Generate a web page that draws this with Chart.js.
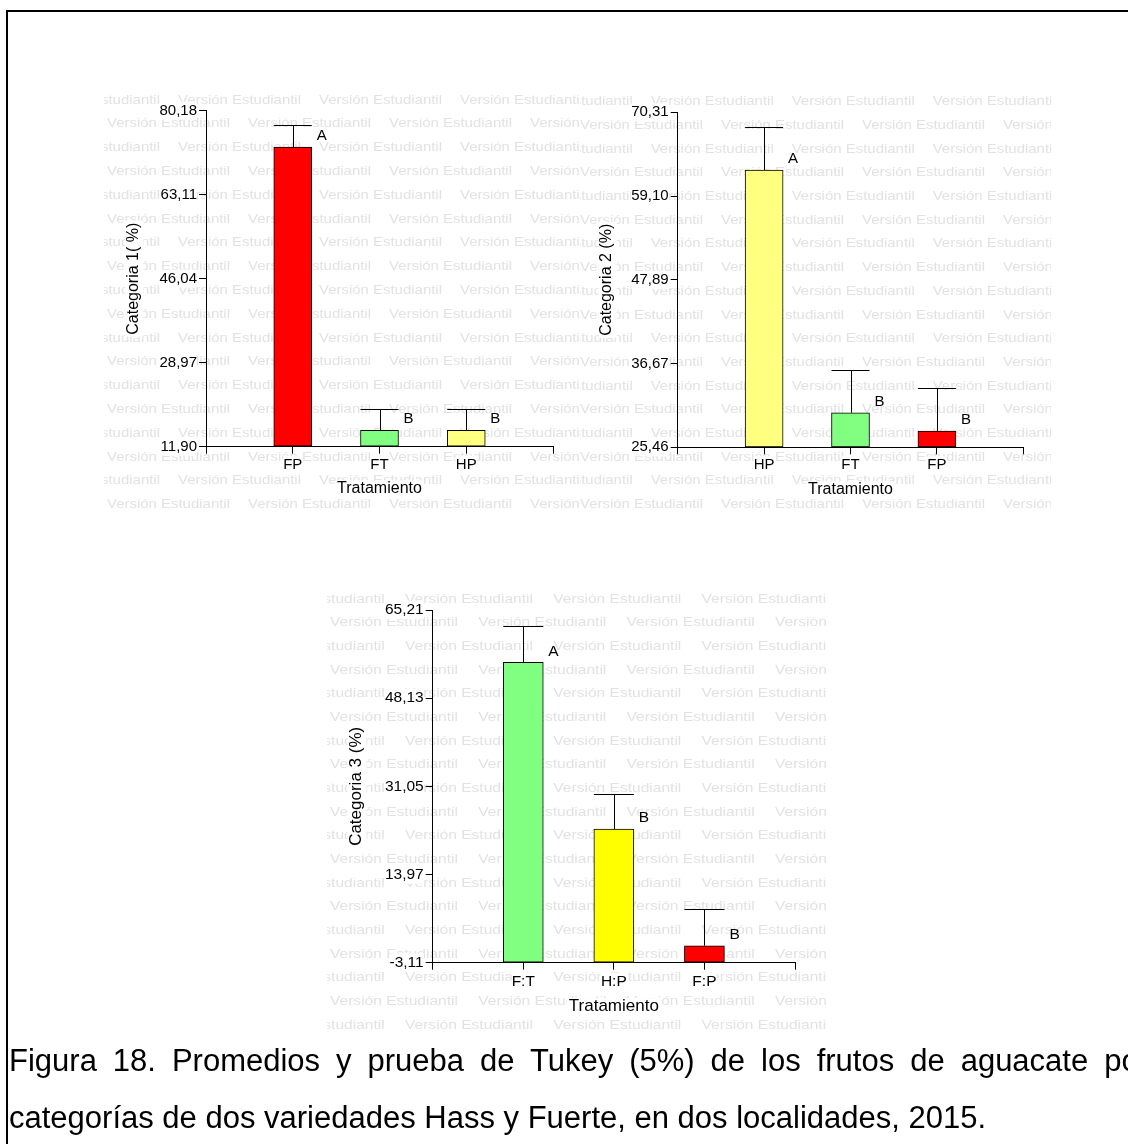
<!DOCTYPE html>
<html>
<head>
<meta charset="utf-8">
<script src="https://cdn.jsdelivr.net/npm/chart.js@4.4.0/dist/chart.umd.min.js"></script>
<style>
  body { margin: 0; width: 1128px; height: 1144px; background: #fff; position: relative; overflow: hidden;
         font-family: Arial, 'Liberation Sans', sans-serif; }
  canvas { position: absolute; }
  .frame-top { position: absolute; left: 6px; top: 10px; width: 1122px; height: 2px; background: #000; }
  .frame-left { position: absolute; left: 6px; top: 10px; width: 2px; height: 1134px; background: #000; }
  #caption { position: absolute; left: 9px; top: 1032px; width: 1140px; font-size: 31px; line-height: 57px;
             text-align: justify; color: #000; }
</style>
</head>
<body>
<div class="frame-top"></div>
<div class="frame-left"></div>
<canvas id="cat1" width="475" height="429" style="left:104px;top:88px"></canvas>
<canvas id="cat2" width="471" height="429" style="left:580px;top:88px"></canvas>
<canvas id="cat3" width="499" height="450" style="left:327px;top:587px"></canvas>
<div id="caption">Figura 18. Promedios y prueba de Tukey (5%) de los frutos de aguacate por categorías de dos variedades Hass y Fuerte, en dos localidades, 2015.</div>
<script>
// Categoria 1
const cat1Labels = ['FP', 'FT', 'HP'];
const cat1Means = [72.80, 15.23, 15.23];
const cat1Upper = [77.27, 19.62, 19.62];   // media + error
const cat1Letters = ['A', 'B', 'B'];
const cat1Ticks = [11.90, 28.97, 46.04, 63.11, 80.18];

// Categoria 2
const cat2Labels = ['HP', 'FT', 'FP'];
const cat2Means = [62.59, 30.09, 27.64];
const cat2Upper = [68.30, 35.81, 33.36];
const cat2Letters = ['A', 'B', 'B'];
const cat2Ticks = [25.46, 36.67, 47.89, 59.10, 70.31];

// Categoria 3
const cat3Labels = ['F:T', 'H:P', 'F:P'];
const cat3Means = [55.08, 22.79, 0.18];
const cat3Upper = [62.11, 29.57, 7.23];
const cat3Letters = ['A', 'B', 'B'];
const cat3Ticks = [-3.11, 13.97, 31.05, 48.13, 65.21];

const RED = '#ff0000', GREEN = '#80ff80', PALE = '#ffff80', YELLOW = '#ffff00';
const WM_TEXT = 'Versión Estudiantil';
const FONT = "Arial, 'Liberation Sans', sans-serif";

const fmt = v => v.toFixed(2).replace('.', ',');

// fondo con marca de agua "Versión Estudiantil"
const watermark = {
  id: 'watermark',
  beforeDraw(chart, args, o) {
    const ctx = chart.ctx;
    ctx.save();
    ctx.fillStyle = '#e2e2e2';
    ctx.font = o.size + 'px ' + FONT;
    ctx.textBaseline = 'middle';
    const sx = o.textW / ctx.measureText(WM_TEXT).width;
    for (let r = 0, y = o.y0; y < chart.height + 12; r++, y += o.dy) {
      let x = r % 2 === 0 ? o.xOdd : o.xEven;
      while (x > -o.period) x -= o.period;
      for (; x < chart.width; x += o.period) {
        ctx.save();
        ctx.translate(x, y);
        ctx.scale(sx, 1);
        ctx.fillText(WM_TEXT, 0, 0);
        ctx.restore();
      }
    }
    // blanco detras de los titulos de los ejes
    ctx.fillStyle = '#fff';
    ['x', 'y'].forEach(k => {
      const s = chart.scales[k];
      const t = s.options.title;
      const f = Chart.helpers.toFont(t.font);
      const pad = Chart.helpers.toPadding(t.padding);
      ctx.font = f.string;
      const w = ctx.measureText(t.text).width;
      if (k === 'y') {
        const cx = s.left + f.lineHeight / 2 + pad.top;
        const cy = (s.top + s.bottom) / 2;
        ctx.fillRect(cx - f.size / 2, cy - w / 2 - 2, f.size + 2, w + 4);
      } else {
        const cx = (s.left + s.right) / 2;
        const cy = s.bottom - f.lineHeight / 2 - pad.bottom;
        ctx.fillRect(cx - w / 2 - 2, cy - f.size / 2, w + 4, f.size + 2);
      }
    });
    ctx.restore();
  }
};

// barras de error (solo hacia arriba) y letras de Tukey
const tukey = {
  id: 'tukey',
  afterDatasetsDraw(chart, args, o) {
    const {ctx, scales: {y}} = chart;
    const bars = chart.getDatasetMeta(0).data;
    ctx.save();
    ctx.strokeStyle = '#000';
    ctx.lineWidth = 1;
    ctx.fillStyle = '#000';
    ctx.font = o.fontSize + 'px ' + FONT;
    ctx.textBaseline = 'middle';
    bars.forEach((bar, i) => {
      const top = Math.round(y.getPixelForValue(o.upper[i])) + 0.5;
      const cx = Math.round(bar.x) + 0.5;
      const half = bar.width / 2;
      ctx.beginPath();
      ctx.moveTo(cx, bar.y);
      ctx.lineTo(cx, top);
      ctx.moveTo(bar.x - half, top);
      ctx.lineTo(bar.x + half, top);
      ctx.stroke();
      ctx.fillText(o.letters[i], bar.x + half + 5, bar.y - 11);
    });
    ctx.restore();
  }
};

function drawPanel(id, p) {
  const axisLine = { display: true, color: '#000', width: 1 };
  const tickGrid = { display: true, drawOnChartArea: false, drawTicks: true, tickLength: 7, color: '#000', offset: false };
  new Chart(document.getElementById(id), {
    type: 'bar',
    data: {
      datasets: [{
        data: p.means.map((m, i) => ({ x: i + 1, y: m })),
        base: p.ticks[0],
        backgroundColor: p.colors,
        borderColor: '#000',
        borderWidth: 1,
        borderSkipped: false,
        barThickness: p.barW
      }]
    },
    options: {
      responsive: false,
      animation: false,
      layout: { padding: p.pad },
      plugins: {
        legend: { display: false },
        tooltip: { enabled: false },
        watermark: p.wm,
        tukey: { upper: p.upper, letters: p.letters, fontSize: p.tickSize }
      },
      scales: {
        x: {
          type: 'linear', min: 0, max: 4, offset: false,
          afterBuildTicks: ax => { ax.ticks = [0, 1, 2, 3, 4].map(v => ({ value: v })); },
          afterFit: ax => { ax.height = p.xH; },
          ticks: {
            callback: v => p.labels[v - 1] || '',
            color: '#000', font: { family: FONT, size: p.tickSize }, padding: p.xTickPad,
            maxRotation: 0, autoSkip: false,
            showLabelBackdrop: true, backdropColor: '#fff', backdropPadding: 0
          },
          grid: tickGrid,
          border: axisLine,
          title: { display: true, text: 'Tratamiento', color: '#000',
                   font: { family: FONT, size: p.titleSize }, padding: { top: 0, bottom: p.xTitlePad } }
        },
        y: {
          min: p.ticks[0], max: p.ticks[p.ticks.length - 1],
          afterBuildTicks: ax => { ax.ticks = p.ticks.map(v => ({ value: v })); },
          afterFit: ax => { ax.width = p.yW; },
          ticks: {
            callback: v => fmt(v),
            color: '#000', font: { family: FONT, size: p.tickSize }, padding: 2,
            showLabelBackdrop: true, backdropColor: '#fff', backdropPadding: 0
          },
          grid: tickGrid,
          border: axisLine,
          title: { display: true, text: p.yTitle, color: '#000',
                   font: { family: FONT, size: p.titleSize }, padding: { top: p.yTitlePad, bottom: 0 } }
        }
      }
    },
    plugins: [watermark, tukey]
  });
}

drawPanel('cat1', {
  labels: cat1Labels, means: cat1Means, upper: cat1Upper, letters: cat1Letters, ticks: cat1Ticks,
  colors: [RED, GREEN, PALE], yTitle: 'Categoria 1( %)',
  pad: { left: 0, top: 22.7, right: 26, bottom: 0 }, yW: 102, xH: 70.3, barW: 38,
  tickSize: 15, titleSize: 16, xTickPad: 2, xTitlePad: 19.1, yTitlePad: 19.7,
  wm: { size: 13, textW: 123, y0: 12, dy: 23.8, period: 141, xOdd: 74, xEven: 3 }
});

drawPanel('cat2', {
  labels: cat2Labels, means: cat2Means, upper: cat2Upper, letters: cat2Letters, ticks: cat2Ticks,
  colors: [PALE, GREEN, RED], yTitle: 'Categoria 2 (%)',
  pad: { left: 0, top: 24.3, right: 27.7, bottom: 0 }, yW: 97.7, xH: 69.7, barW: 38,
  tickSize: 15, titleSize: 16, xTickPad: 2, xTitlePad: 18.1, yTitlePad: 17.1,
  wm: { size: 13, textW: 123, y0: 13.7, dy: 23.7, period: 141, xOdd: 70.7, xEven: 0 }
});

drawPanel('cat3', {
  labels: cat3Labels, means: cat3Means, upper: cat3Upper, letters: cat3Letters, ticks: cat3Ticks,
  colors: [GREEN, YELLOW, RED], yTitle: 'Categoria 3 (%)',
  pad: { left: 0, top: 23, right: 31, bottom: 0 }, yW: 105.7, xH: 74.3, barW: 40,
  tickSize: 15.5, titleSize: 17, xTickPad: 3, xTitlePad: 20.1, yTitlePad: 18.8,
  wm: { size: 13.5, textW: 128, y0: 12, dy: 23.67, period: 148.3, xOdd: 78, xEven: 3 }
});
</script>
</body>
</html>
